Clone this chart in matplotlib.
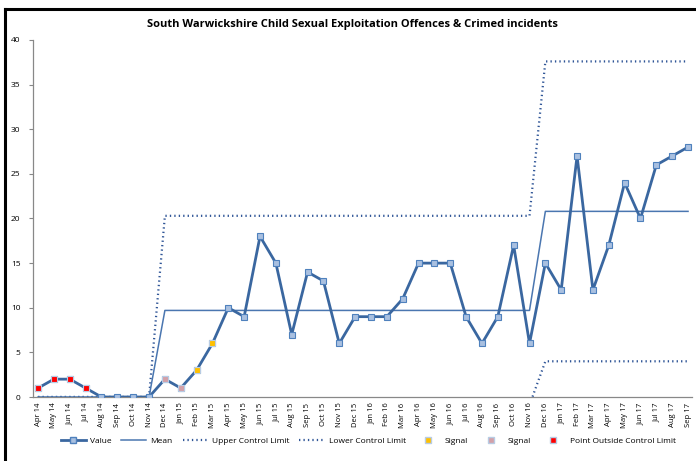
import matplotlib
matplotlib.use("Agg")
import matplotlib.pyplot as plt
import numpy as np
from matplotlib.lines import Line2D

months = ["Apr 14","May 14","Jun 14","Jul 14","Aug 14","Sep 14","Oct 14","Nov 14",
          "Dec 14","Jan 15","Feb 15","Mar 15","Apr 15","May 15","Jun 15","Jul 15",
          "Aug 15","Sep 15","Oct 15","Nov 15","Dec 15","Jan 16","Feb 16","Mar 16",
          "Apr 16","May 16","Jun 16","Jul 16","Aug 16","Sep 16","Oct 16","Nov 16",
          "Dec 16","Jan 17","Feb 17","Mar 17","Apr 17","May 17","Jun 17","Jul 17",
          "Aug 17","Sep 17"]
values = [1,2,2,1,0,0,0,0,2,1,3,6,10,9,18,15,7,14,13,6,9,9,9,11,15,15,15,9,6,9,17,6,
          15,12,27,12,17,24,20,26,27,28]
mean = [0]*8 + [9.7]*24 + [20.8]*10
ucl = [0]*8 + [20.3]*24 + [37.6]*10
lcl = [0]*8 + [-0.9]*24 + [4.0]*10
signal_yellow = {"Feb 15": 3, "Mar 15": 6}
signal_pink = {"Dec 14": 2, "Jan 15": 1}
outside = {"Apr 14": 1, "May 14": 2, "Jun 14": 2, "Jul 14": 1}

plt.rcParams['font.family'] = ['Open Sans', 'DejaVu Sans']

fig = plt.figure(figsize=(6.96, 4.61), dpi=100)
ax = fig.add_axes([33/696, 1-397/461, (692-33)/696, (397-40)/461])

x = np.arange(len(months))
line_c = "#3A67A0"
ax.plot(x, ucl, color="#2F5597", lw=1.6, ls=(0, (0.6, 1.4)), zorder=2)
ax.plot(x, lcl, color="#2F5597", lw=1.6, ls=(0, (0.6, 1.4)), zorder=2)
ax.plot(x, mean, color="#4A76B0", lw=1.1, zorder=3)
ax.plot(x, values, color=line_c, lw=2.0, marker="s", ms=4.2,
        mfc="#A9C0E0", mec="#4F81BD", mew=0.8, zorder=4)

def pts(d):
    xs = [months.index(k) for k in d]
    ys = list(d.values())
    return xs, ys

for d, col in [(signal_yellow, "#FFC000"), (signal_pink, "#D3A0A8"), (outside, "#FF0000")]:
    xs, ys = pts(d)
    ax.plot(xs, ys, ls="none", marker="s", ms=4.2, mfc=col, mec="#B8CCE4", mew=0.8, zorder=5)

ax.set_xlim(-0.32, 41.25)
ax.set_ylim(0, 40)
ax.set_yticks(range(0, 41, 5))
ax.set_xticks(x)
ax.set_xticklabels(months, rotation=90, fontsize=5.5)
ax.tick_params(axis='y', labelsize=6, length=3, color="#888888", pad=6)
ax.tick_params(axis='x', length=0, pad=4)
for s in ["top", "right"]:
    ax.spines[s].set_visible(False)
for s in ["left", "bottom"]:
    ax.spines[s].set_color("#888888")
    ax.spines[s].set_linewidth(0.9)
    ax.spines[s].set_zorder(1)

fig.text(0.507, 0.946, "South Warwickshire Child Sexual Exploitation Offences & Crimed incidents",
         ha="center", va="center", fontsize=8, fontweight="bold")

handles = [
    Line2D([], [], color=line_c, lw=2.0, marker="s", ms=4.2, mfc="#A9C0E0", mec="#4F81BD"),
    Line2D([], [], color="#4A76B0", lw=1.1),
    Line2D([], [], color="#2F5597", lw=1.6, ls=(0, (0.6, 1.4))),
    Line2D([], [], color="#2F5597", lw=1.6, ls=(0, (0.6, 1.4))),
    Line2D([], [], ls="none", marker="s", ms=4.2, mfc="#FFC000", mec="#B8CCE4"),
    Line2D([], [], ls="none", marker="s", ms=4.2, mfc="#D3A0A8", mec="#B8CCE4"),
    Line2D([], [], ls="none", marker="s", ms=4.2, mfc="#FF0000", mec="#B8CCE4"),
]
labels = ["Value", "Mean", "Upper Control Limit", "Lower Control Limit", "Signal", "Signal",
          "Point Outside Control Limit"]
fig.legend(handles, labels, loc="center", bbox_to_anchor=(0.529, 1-441/461), ncol=7,
           frameon=False, fontsize=6, handlelength=3.0, columnspacing=1.2, handletextpad=0.5)

# chart border (top and left)
fig.add_artist(Line2D([4.5/696, 4.5/696], [0, 1-9/461], color="black", lw=2.2,
                      transform=fig.transFigure))
fig.add_artist(Line2D([4.5/696, 1], [1-9/461, 1-9/461], color="black", lw=2.2,
                      transform=fig.transFigure))

fig.savefig("out.png", dpi=100)
